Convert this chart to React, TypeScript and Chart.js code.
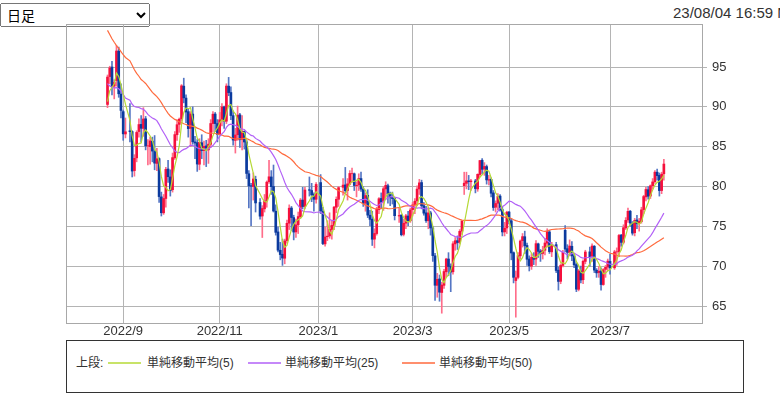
import React, { useEffect, useRef } from 'react';
import { Chart, registerables } from 'chart.js';

Chart.register(...registerables);

// ---- data (WTI daily candles, 2022/08/23 - 2023/08/04, one slot per weekday, null = no session) ----
const firstSessionDate = '2022-08-23';

// closes before the visible window, only used for the moving averages
const priorCloses = [
  121.51, 120.67, 120.93, 118.93, 115.31, 117.59, 109.56, 109.52, 106.19, 104.27, 107.62, 109.57, 111.76, 109.78, 105.76,
  108.43, 99.5, 98.53, 102.73, 104.79, 104.09, 95.84, 96.3, 95.78, 97.59, 102.6, 104.22, 102.26, 96.35, 94.7, 96.7, 94.98, 97.26, 96.42, 98.62,
  93.89, 94.42, 90.66, 88.54, 89.01, 90.76, 90.5, 91.93, 94.34, 92.09, 89.41, 86.53, 88.11, 90.5, 90.77, 90.23,
];

const opens = [
  90.3, 93.8, 95.0, 92.6, 93.3, 97.0, 91.6,
  89.4, 86.6, null, 87.0, 86.9, 82.0, 83.6, 86.9, 87.8, 87.3, 88.5, 85.1, 85.0, 85.7, 84.4, 82.9, 83.5, 78.7, 76.7, 78.5, 82.2, 81.2,
  79.6, 83.6, 86.5, 87.8, 88.5, 92.6, 91.1, 89.4, 87.3, 89.1, 85.6, 85.5, 82.8, 85.5, 84.5, 85.1, 84.6, 85.3, 87.9, 89.1, 87.9,
  86.6, 88.4, 90.0, 88.2, 92.6, 91.8, 88.9, 85.8, 86.5, 89.0, 85.9, 86.9, 85.6, 81.6, 80.1, 80.0, 80.9, null, 78.0, 76.3, 77.2, 78.2,
  80.6, 81.2, 80.0, 76.9, 74.3, 72.0, 71.5, 71.0, 73.2, 75.4, 77.3, 76.1, 74.3, 75.2, 76.2, 78.3, 77.5, null, 79.6, 79.5, 79.0, 78.4,
  null, 80.5, 76.9, 72.8, 73.7, 73.8, 74.6, 75.1, 77.4, 78.4, null, 79.9, 80.2, 79.5, 80.3, 81.6, 81.6, 80.1, 80.2, 81.0, 79.7, 77.9,
  78.9, 76.4, 75.9, 73.4, 74.1, 77.1, 78.5, 78.1, 79.7, 80.1, 79.1, 78.6, 78.5, null, 76.3, 76.4, 74.0, 75.4, 76.3, 75.7,
  77.1, 77.7, 78.2, 79.7, 80.5, 77.6, 76.7, 75.7, 76.7, 74.8, 71.3, 67.6, 68.4, 66.7, 67.6, 69.3, 70.9, 70.0, 69.3, 72.8, 73.2, 73.0, 74.4,
  80.1, 80.4, 80.7, 80.6, null, 80.7, 79.7, 81.5, 83.3, 82.2, 82.5, 80.8, 80.9, 79.2, 77.4, 77.9, 78.8, 77.1, 74.3, 74.8,
  76.8, 75.7, 71.7, 68.2, 68.6, 71.3, 73.2, 73.7, 72.6, 70.9, 70.0, 71.1, 70.9, 72.8, 71.9, 71.6, 72.0, 72.9, 74.3, 71.8, null, 72.7, 69.5,
  68.1, 70.1, 74.5, 72.2, 71.7, 72.5, 71.3, 70.2, 67.1, 69.4, 68.3, 70.6, null, 71.8, 71.2, 72.5, 69.5, 69.2, 69.4, 67.7, 69.6, 69.9,
  70.6, null, 69.8, 71.8, 71.8, 73.9, 73.0, 74.8, 75.8, 76.9, 75.4, 74.2, 75.8, 75.4, 75.6, 77.1, 78.7, 79.6, 78.8, 80.1, 80.6,
  81.8, 81.4, 79.5, 81.6,
];

const highs = [
  94.0, 95.1, 95.7, 93.4, 97.7, 97.5, 92.9,
  89.6, 88.6, null, 90.4, 87.0, 84.0, 87.0, 88.5, 88.9, 89.9, 88.8, 85.9, 86.2, 86.2, 86.4, 84.8, 83.6, 79.3, 79.0, 82.4, 83.3, 82.1,
  84.2, 86.9, 88.4, 88.6, 92.8, 93.6, 91.5, 89.7, 89.4, 90.0, 86.3, 85.9, 86.0, 86.5, 85.7, 85.8, 86.0, 88.4, 89.4, 89.3, 88.4,
  89.3, 90.4, 90.1, 92.9, 93.7, 92.5, 89.5, 87.3, 90.1, 89.2, 88.9, 87.0, 85.8, 82.0, 80.4, 81.7, 81.3, null, 78.5, 77.6, 79.0, 80.7,
  83.3, 82.0, 82.7, 77.7, 74.9, 73.0, 73.4, 73.4, 75.8, 77.7, 77.5, 76.4, 75.9, 76.8, 78.5, 79.9, 79.9, null, 81.2, 80.4, 79.2, 80.5,
  null, 81.5, 77.4, 74.9, 75.7, 76.7, 75.8, 77.5, 78.7, 80.0, null, 81.0, 82.4, 81.0, 82.0, 82.3, 81.7, 80.6, 81.6, 81.8, 80.0, 79.2,
  79.6, 77.0, 76.9, 74.7, 77.4, 78.6, 79.2, 80.0, 80.6, 80.3, 79.3, 79.3, 78.6, null, 77.3, 76.5, 75.9, 76.5, 76.9, 77.3,
  78.0, 78.5, 80.1, 80.9, 80.8, 78.0, 77.5, 77.4, 76.9, 75.0, 71.6, 69.1, 68.9, 68.0, 69.6, 71.0, 71.7, 70.3, 73.1, 73.6, 73.8, 74.6, 75.7,
  81.8, 81.8, 81.4, 80.9, null, 80.9, 81.6, 83.3, 83.5, 83.0, 82.7, 81.4, 81.1, 79.5, 78.2, 79.1, 79.0, 77.4, 75.5, 76.9,
  76.9, 76.0, 71.8, 69.4, 71.7, 73.3, 74.1, 74.4, 72.9, 71.3, 71.6, 71.7, 73.2, 72.9, 72.1, 72.5, 73.5, 74.7, 74.5, 73.0, null, 73.0, 69.9,
  70.3, 72.0, 75.1, 72.7, 73.3, 73.1, 71.5, 70.4, 69.6, 70.0, 70.8, 72.0, null, 72.4, 72.8, 72.6, 69.7, 70.0, 69.8, 69.7, 70.1, 70.9,
  71.5, null, 72.0, 72.3, 74.0, 74.0, 75.2, 76.1, 77.3, 77.0, 75.6, 76.0, 76.4, 76.0, 77.4, 78.9, 79.9, 80.0, 80.2, 81.0, 82.0,
  82.2, 81.7, 81.8, 83.4,
];

const lows = [
  89.9, 92.9, 91.5, 91.0, 92.6, 91.2, 88.6,
  85.8, 86.1, null, 85.6, 81.2, 81.3, 83.1, 86.2, 85.6, 86.3, 84.6, 82.7, 82.8, 83.1, 82.1, 82.0, 78.0, 76.3, 76.5, 77.4, 80.5, 78.8,
  79.3, 83.4, 85.8, 86.8, 88.2, 90.5, 88.0, 86.2, 85.0, 85.3, 83.5, 81.9, 82.1, 83.5, 82.7, 82.5, 82.9, 84.9, 86.9, 86.9, 85.6,
  86.5, 87.6, 87.3, 87.9, 91.4, 88.4, 85.2, 84.2, 85.8, 84.9, 84.6, 84.7, 81.0, 77.3, 75.1, 78.3, 76.8, null, 75.9, 73.6, 76.8, 77.4,
  80.4, 79.0, 76.8, 73.9, 71.8, 70.8, 70.1, 70.3, 72.9, 74.6, 74.5, 73.3, 73.6, 74.1, 76.0, 77.2, 77.2, null, 78.8, 78.1, 76.9, 77.9,
  null, 76.6, 72.7, 72.5, 73.2, 73.5, 73.4, 74.6, 76.7, 77.5, null, 78.9, 79.2, 78.3, 80.2, 80.5, 79.5, 78.7, 79.5, 79.4, 77.5, 76.9,
  76.1, 75.1, 72.6, 72.3, 73.9, 76.6, 77.2, 77.0, 78.6, 77.9, 77.6, 77.8, 75.8, null, 75.5, 73.8, 73.8, 74.7, 75.1, 75.5,
  76.3, 76.6, 77.6, 79.0, 77.2, 76.4, 75.5, 74.7, 73.9, 70.6, 65.7, 66.1, 65.6, 64.1, 67.2, 68.6, 68.8, 66.8, 69.0, 72.0, 72.1, 72.8, 74.0,
  79.0, 79.7, 79.6, 79.5, null, 79.2, 79.4, 81.2, 81.6, 81.4, 80.3, 80.2, 78.7, 77.0, 76.8, 77.1, 76.9, 73.8, 73.8, 74.1,
  75.3, 70.8, 67.9, 63.6, 68.4, 70.9, 72.4, 71.6, 70.1, 69.4, 69.6, 70.2, 70.1, 71.1, 70.6, 70.9, 71.4, 72.4, 71.6, 71.2, null, 69.2, 67.0,
  67.8, 69.9, 71.8, 70.9, 71.3, 70.7, 69.8, 66.8, 66.9, 67.9, 67.8, 70.3, null, 70.0, 70.6, 69.2, 68.6, 68.6, 67.0, 67.6, 68.6, 69.4,
  69.0, null, 69.6, 70.1, 71.2, 72.5, 72.8, 74.6, 75.5, 75.0, 73.9, 73.8, 74.7, 74.4, 75.4, 76.6, 78.2, 78.4, 78.5, 79.7, 80.4,
  80.8, 78.8, 79.1, 80.8,
];

const closes = [
  93.74, 94.89, 92.52, 93.06, 97.01, 91.64, 89.55,
  86.61, 86.87, null, 86.88, 81.94, 83.54, 86.79, 87.78, 87.31, 88.48, 85.1, 85.11, 85.73, 84.45, 82.94, 83.49, 78.74, 76.71, 78.5, 82.15, 81.23, 79.49,
  83.63, 86.52, 87.76, 88.45, 92.64, 91.13, 89.35, 87.27, 89.11, 85.61, 85.46, 82.82, 85.55, 84.51, 85.05, 84.58, 85.32, 87.91, 89.08, 87.9, 86.53,
  88.37, 90.0, 88.17, 92.61, 91.79, 88.91, 85.83, 86.47, 88.96, 85.87, 86.92, 85.59, 81.64, 80.08, 80.04, 80.95, 77.94, null, 76.28, 77.24, 78.2, 80.55,
  81.22, 79.98, 76.93, 74.25, 72.01, 71.46, 71.02, 73.17, 75.39, 77.28, 76.11, 74.29, 75.19, 76.23, 78.29, 77.49, 79.56, null, 79.53, 78.96, 78.4, 80.26,
  null, 76.93, 72.84, 73.67, 73.77, 74.63, 75.12, 77.41, 78.39, 79.86, null, 80.18, 79.48, 80.33, 81.64, 81.62, 80.13, 80.15, 81.01, 79.68, 77.9, 78.87,
  76.41, 75.88, 73.39, 74.11, 77.14, 78.47, 78.06, 79.72, 80.14, 79.06, 78.59, 78.49, 76.34, null, 76.36, 73.95, 75.39, 76.32, 75.68, 77.05,
  77.69, 78.16, 79.68, 80.46, 77.58, 76.66, 75.72, 76.68, 74.8, 71.33, 67.61, 68.35, 66.74, 67.64, 69.33, 70.9, 69.96, 69.26, 72.81, 73.2, 72.97, 74.37, 75.67,
  80.42, 80.71, 80.61, 80.7, null, 79.74, 81.53, 83.26, 82.16, 82.52, 80.83, 80.86, 79.16, 77.37, 77.87, 78.76, 77.07, 74.3, 74.76, 76.78,
  75.66, 71.66, 68.6, 68.56, 71.34, 73.16, 73.71, 72.56, 70.87, 70.04, 71.11, 70.86, 72.83, 71.86, 71.55, 71.99, 72.91, 74.34, 71.83, 72.67, null, 69.46, 68.09,
  70.1, 71.74, 72.15, 71.74, 72.53, 71.29, 70.17, 67.12, 69.42, 68.27, 70.62, 71.78, null, 71.19, 72.53, 69.51, 69.16, 69.37, 67.7, 69.56, 69.86, 70.64,
  69.79, null, 71.79, 71.8, 73.86, 72.99, 74.83, 75.75, 76.89, 75.42, 74.15, 75.75, 75.35, 75.63, 77.07, 78.74, 79.63, 78.78, 80.09, 80.58, 81.8,
  81.37, 79.49, 81.55, 82.82,
];

const monthTickLabels = ['2022/9', '2022/11', '2023/1', '2023/3', '2023/5', '2023/7'];
const yTickValues = [65, 70, 75, 80, 85, 90, 95];
const maPeriods = [5, 25, 50];
const maLabels = ['単純移動平均(5)', '単純移動平均(25)', '単純移動平均(50)'];
const maColors = ['#b5d936', '#b260f7', '#ff6a3d'];
const legendPrefix = '上段:';
const timeframeLabel = '日足';
const updatedLabel = '23/08/04 16:59 NY';

const UP_BODY = '#f5103c';
const DOWN_BODY = '#0b3a9e';
const UP_WICK = '#ff6d8a';
const DOWN_WICK = '#5576c4';

function sessionMonths(start: string, n: number): string[] {
  const d = new Date(start + 'T00:00:00Z');
  const out: string[] = [];
  while (out.length < n) {
    const wd = d.getUTCDay();
    if (wd !== 0 && wd !== 6) out.push(`${d.getUTCFullYear()}/${d.getUTCMonth() + 1}`);
    d.setUTCDate(d.getUTCDate() + 1);
  }
  return out;
}

function movingAverage(period: number) {
  const idx: number[] = [];
  const seq: number[] = [...priorCloses];
  closes.forEach((c, i) => {
    if (c != null) {
      seq.push(c);
      idx.push(i);
    }
  });
  const pts: { x: number; y: number }[] = [];
  idx.forEach((x, k) => {
    const end = priorCloses.length + k;
    let s = 0;
    for (let j = end - period + 1; j <= end; j++) s += seq[j];
    pts.push({ x, y: s / period });
  });
  return pts;
}

export default function App() {
  const canvasRef = useRef<HTMLCanvasElement | null>(null);

  useEffect(() => {
    const canvas = canvasRef.current;
    if (!canvas) return;
    const months = sessionMonths(firstSessionDate, closes.length);
    const tickIdx = monthTickLabels.map((l) => months.indexOf(l));

    const bodies: any[] = [];
    const wicks: any[] = [];
    const bodyColors: string[] = [];
    const wickColors: string[] = [];
    closes.forEach((c, i) => {
      const o = opens[i];
      if (c == null || o == null) return;
      const up = c >= o;
      bodies.push({ x: i, y: [Math.min(o, c), Math.max(o, c)] });
      wicks.push({ x: i, y: [lows[i], highs[i]] });
      bodyColors.push(up ? UP_BODY : DOWN_BODY);
      wickColors.push(up ? UP_WICK : DOWN_WICK);
    });

    const maSets = maPeriods.map((p, k) => ({
      type: 'line' as const,
      label: maLabels[k],
      data: movingAverage(p),
      borderColor: maColors[k],
      borderWidth: 1.2,
      pointRadius: 0,
      tension: 0,
      order: 0,
    }));

    const framePlugin = {
      id: 'frame',
      beforeDatasetsDraw(chart: any) {
        const { ctx, chartArea: a } = chart;
        ctx.save();
        ctx.strokeStyle = '#a8a8a8';
        ctx.lineWidth = 1;
        ctx.strokeRect(Math.round(a.left) + 0.5, Math.round(a.top) + 0.5, Math.round(a.right - a.left), Math.round(a.bottom - a.top));
        ctx.restore();
      },
    };

    Chart.defaults.font.family = "'Liberation Sans', Arial, sans-serif";
    Chart.defaults.color = '#333';

    const chart = new Chart(canvas, {
      type: 'bar',
      data: {
        datasets: [
          ...maSets,
          {
            type: 'bar',
            label: 'body',
            data: bodies,
            backgroundColor: bodyColors,
            barThickness: 2,
            grouped: false,
            order: 1,
          } as any,
          {
            type: 'bar',
            label: 'wick',
            data: wicks,
            backgroundColor: wickColors,
            barThickness: 1,
            grouped: false,
            order: 2,
          } as any,
        ],
      },
      options: {
        animation: false,
        responsive: false,
        maintainAspectRatio: false,
        layout: { padding: { top: 24, left: 66, right: 0, bottom: 0 } },
        plugins: { legend: { display: false }, tooltip: { enabled: false } },
        scales: {
          x: {
            type: 'linear',
            min: -18.5,
            max: 265,
            offset: false,
            grid: { color: '#b4b4b4', lineWidth: 1, drawTicks: false, offset: false },
            border: { display: false },
            ticks: {
              padding: 1,
              font: { size: 13 },
              color: '#333',
              autoSkip: false,
              maxRotation: 0,
              callback: (v: any) => {
                const k = tickIdx.indexOf(Number(v));
                return k >= 0 ? monthTickLabels[k] : '';
              },
            },
            afterBuildTicks: (s: any) => {
              s.ticks = tickIdx.map((v) => ({ value: v }));
            },
            afterFit: (s: any) => {
              s.height = 17;
            },
          },
          y: {
            type: 'linear',
            position: 'right',
            min: 62.87,
            max: 100.4,
            grid: { color: '#b4b4b4', lineWidth: 1, drawTicks: true, tickLength: 5 },
            border: { display: false },
            ticks: { padding: 5, font: { size: 13 }, color: '#333' },
            afterBuildTicks: (s: any) => {
              s.ticks = yTickValues.map((v) => ({ value: v }));
            },
            afterFit: (s: any) => {
              s.width = 78;
            },
          },
        },
      } as any,
      plugins: [framePlugin],
    });
    return () => chart.destroy();
  }, []);

  const textFont = "'Liberation Sans', Arial, 'Noto Sans CJK JP', sans-serif";
  const legendPos = [
    { sw: 41, tx: 80 },
    { sw: 181, tx: 218 },
    { sw: 335, tx: 372 },
  ];

  return (
    <div style={{ position: 'absolute', left: 0, top: 0, width: 780, height: 395, overflow: 'hidden', background: '#fff' }}>
      <select
        defaultValue={timeframeLabel}
        style={{
          position: 'absolute',
          left: 0,
          top: 3,
          width: 150,
          fontSize: 14,
          fontFamily: "'Noto Sans CJK JP', sans-serif",
          padding: '0 2px',
          margin: 0,
        }}
      >
        <option value={timeframeLabel}>{timeframeLabel}</option>
      </select>
      <div style={{ position: 'absolute', left: 673, top: 4, fontSize: 15, fontFamily: textFont, color: '#333', whiteSpace: 'nowrap' }}>
        {updatedLabel}
      </div>
      <canvas ref={canvasRef} width={780} height={340} style={{ position: 'absolute', left: 0, top: 0, width: 780, height: 340 }} />
      <div
        style={{
          position: 'absolute',
          left: 66,
          top: 340,
          width: 678,
          height: 53,
          boxSizing: 'border-box',
          border: '1px solid #333',
          fontFamily: textFont,
          fontSize: 12,
          color: '#333',
        }}
      >
        <span style={{ position: 'absolute', left: 9, top: 14, lineHeight: '16px' }}>{legendPrefix}</span>
        {maLabels.map((l, k) => (
          <React.Fragment key={l}>
            <span style={{ position: 'absolute', left: legendPos[k].sw, top: 21, width: 33, height: 2, background: maColors[k], opacity: 0.75 }} />
            <span style={{ position: 'absolute', left: legendPos[k].tx, top: 14, lineHeight: '16px' }}>{l}</span>
          </React.Fragment>
        ))}
      </div>
    </div>
  );
}
